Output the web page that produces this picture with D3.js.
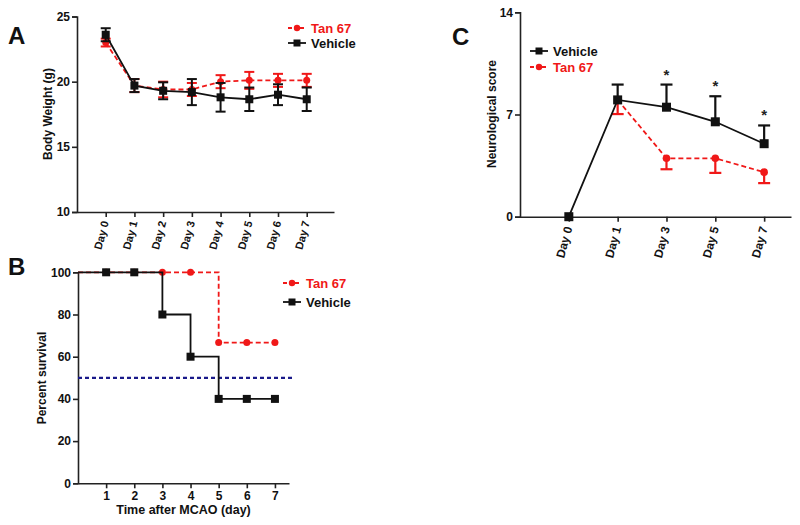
<!DOCTYPE html>
<html><head><meta charset="utf-8">
<script src="https://cdn.jsdelivr.net/npm/d3@7"></script>
<style>
body{margin:0;background:#fff;}
svg{display:block;font-family:"Liberation Sans",Arial,sans-serif;}
</style></head>
<body><svg id="c" width="800" height="525"></svg>
<script>
// ---- Panel A data: body weight ----
const daysA = ["Day 0","Day 1","Day 2","Day 3","Day 4","Day 5","Day 6","Day 7"];
const tanWeight = [23.0,19.7,19.4,19.4,20.0,20.1,20.1,20.1];
const tanWeightErr = [0.3,0.5,0.6,0.5,0.5,0.65,0.5,0.5];
const vehWeight = [23.6,19.7,19.3,19.2,18.8,18.65,19.0,18.65];
const vehWeightErr = [0.5,0.5,0.65,1.0,1.1,0.9,0.8,0.9];
const weightTicks = [10,15,20,25];
// ---- Panel B data: survival ----
const survDays = [0,1,2,3,4,5,6,7];
const tanSurv = [100,100,100,100,100,66.7,66.7,66.7];
const vehSurv = [100,100,100,80,60,40,40,40];
const survTicks = [0,20,40,60,80,100];
const survDayTicks = [1,2,3,4,5,6,7];
const medianLine = 50;
// ---- Panel C data: neurological score ----
const daysC = ["Day 0","Day 1","Day 3","Day 5","Day 7"];
const vehNeuro = [0,8.0,7.5,6.5,5.0];
const vehNeuroErr = [0,1.05,1.55,1.75,1.25];
const tanNeuro = [null,8.0,4.0,4.0,3.05];
const tanNeuroErr = [null,0.97,0.75,1.0,0.75];
const neuroTicks = [0,7,14];
const signifDays = ["Day 3","Day 5","Day 7"];

const RED = "#f01818", BLACK = "#111", AXIS = "#222";
const svg = d3.select("#c");

function styleAxis(g, fs){
  g.select(".domain").attr("stroke",AXIS).attr("stroke-width",1.6);
  g.selectAll(".tick line").attr("stroke",AXIS).attr("stroke-width",1.6);
  g.selectAll(".tick text").attr("fill","#111").attr("font-weight","bold").attr("font-size",fs)
   .attr("font-family","'Liberation Sans',Arial,sans-serif");
}
function square(g, x, y, color, s){
  g.append("rect").attr("x",x-s/2).attr("y",y-s/2).attr("width",s).attr("height",s).attr("fill",color);
}
function circle(g, x, y, color, r){
  g.append("circle").attr("cx",x).attr("cy",y).attr("r",r).attr("fill",color);
}
function legendItem(g, x, y, label, color, dashed, shape){
  g.append("line").attr("x1",x).attr("x2",x+18).attr("y1",y).attr("y2",y)
    .attr("stroke",color).attr("stroke-width",1.8).attr("stroke-dasharray",dashed?"4,2":null);
  if(shape==="sq") square(g,x+9,y,color,7); else circle(g,x+9,y,color,3.2);
  g.append("text").attr("x",x+23).attr("y",y+4.5).text(label).attr("fill",color)
    .attr("font-weight","bold").attr("font-size",13);
}
function panelLetter(x,y,t){
  svg.append("text").attr("x",x).attr("y",y).text(t).attr("font-weight","bold").attr("font-size",24).attr("fill","#111");
}
function yTitle(x,y,t){
  svg.append("text").attr("transform",`translate(${x},${y}) rotate(-90)`).attr("text-anchor","middle")
    .text(t).attr("font-weight","bold").attr("font-size",12).attr("fill","#111");
}

// ================= Panel A =================
{
  const x = d3.scaleLinear().domain([-1,7.95]).range([77,334]);
  const y = d3.scaleLinear().domain([10,25]).range([212,16.5]);
  const g = svg.append("g");
  const ya = g.append("g").attr("transform","translate(77,0)")
    .call(d3.axisLeft(y).tickValues(weightTicks).tickSize(5).tickPadding(2));
  styleAxis(ya,12);
  const xa = g.append("g").attr("transform","translate(0,212)")
    .call(d3.axisBottom(x).tickValues(d3.range(daysA.length)).tickFormat(i=>daysA[i]).tickSize(5).tickSizeOuter(0));
  styleAxis(xa,11);
  xa.selectAll(".tick text").attr("text-anchor","end").attr("dy","0.35em")
    .attr("transform","translate(-1,9) rotate(-75)").attr("x",0).attr("y",0);

  const series = [
    {v:tanWeight,e:tanWeightErr,c:RED,dash:"5,3",shape:"ci"},
    {v:vehWeight,e:vehWeightErr,c:BLACK,dash:null,shape:"sq"}
  ];
  series.forEach(s=>{
    const line = d3.line().x((d,i)=>x(i)).y(d=>y(d));
    g.append("path").attr("d",line(s.v)).attr("fill","none").attr("stroke",s.c)
      .attr("stroke-width",1.8).attr("stroke-dasharray",s.dash);
    s.v.forEach((v,i)=>{
      const xi=x(i), y0=y(v-s.e[i]), y1=y(v+s.e[i]);
      g.append("line").attr("x1",xi).attr("x2",xi).attr("y1",y0).attr("y2",y1).attr("stroke",s.c).attr("stroke-width",2);
      [y0,y1].forEach(yy=>g.append("line").attr("x1",xi-5).attr("x2",xi+5).attr("y1",yy).attr("y2",yy).attr("stroke",s.c).attr("stroke-width",2));
      if(s.shape==="sq") square(g,xi,y(v),s.c,8); else circle(g,xi,y(v),s.c,3.5);
    });
  });
  legendItem(g,288,28,"Tan 67",RED,true,"ci");
  legendItem(g,288,43,"Vehicle",BLACK,false,"sq");
  panelLetter(8,44,"A");
  yTitle(52,114,"Body Weight (g)");
}

// ================= Panel B =================
{
  const x = d3.scaleLinear().domain([0,7.5]).range([78,289]);
  const y = d3.scaleLinear().domain([0,100]).range([483.3,272.3]);
  const g = svg.append("g");
  const ya = g.append("g").attr("transform","translate(78,0)")
    .call(d3.axisLeft(y).tickValues(survTicks).tickSize(5).tickPadding(2));
  styleAxis(ya,12);
  const xa = g.append("g").attr("transform","translate(0,483.3)")
    .call(d3.axisBottom(x).tickValues(survDayTicks).tickSize(5).tickSizeOuter(0).tickPadding(3));
  styleAxis(xa,12);
  g.append("line").attr("x1",78).attr("x2",292).attr("y1",y(medianLine)).attr("y2",y(medianLine))
    .attr("stroke","#1a1a8a").attr("stroke-width",2.2).attr("stroke-dasharray","4,3");
  const series = [
    {v:tanSurv,c:RED,dash:"5,3",shape:"ci"},
    {v:vehSurv,c:BLACK,dash:null,shape:"sq"}
  ];
  series.forEach(s=>{
    const line = d3.line().curve(d3.curveStepAfter).x((d,i)=>x(survDays[i])).y(d=>y(d));
    g.append("path").attr("d",line(s.v)).attr("fill","none").attr("stroke",s.c)
      .attr("stroke-width",1.8).attr("stroke-dasharray",s.dash);
    s.v.forEach((v,i)=>{
      if(survDays[i]===0) return;
      if(s.shape==="sq") square(g,x(survDays[i]),y(v),s.c,8); else circle(g,x(survDays[i]),y(v),s.c,3.5);
    });
  });
  legendItem(g,283,283,"Tan 67",RED,true,"ci");
  legendItem(g,283,302,"Vehicle",BLACK,false,"sq");
  g.append("text").attr("x",183.5).attr("y",514).attr("text-anchor","middle").text("Time after MCAO (day)")
    .attr("font-weight","bold").attr("font-size",12.5).attr("fill","#111");
  panelLetter(8,275,"B");
  yTitle(46,378,"Percent survival");
}

// ================= Panel C =================
{
  const x = d3.scaleLinear().domain([-1,4.55]).range([520,791]);
  const y = d3.scaleLinear().domain([0,14]).range([216.7,12.3]);
  const g = svg.append("g");
  const ya = g.append("g").attr("transform","translate(520,0)")
    .call(d3.axisLeft(y).tickValues(neuroTicks).tickSize(5).tickPadding(2));
  styleAxis(ya,12);
  const xa = g.append("g").attr("transform","translate(0,216.7)")
    .call(d3.axisBottom(x).tickValues(d3.range(daysC.length)).tickFormat(i=>daysC[i]).tickSize(5).tickSizeOuter(0));
  styleAxis(xa,12);
  xa.selectAll(".tick text").attr("text-anchor","end").attr("dy","0.35em")
    .attr("transform","translate(-1,10) rotate(-75)").attr("x",0).attr("y",0);

  // Tan 67 (lower error bars)
  const idxT = d3.range(daysC.length).filter(i=>tanNeuro[i]!==null);
  const lineT = d3.line().x(i=>x(i)).y(i=>y(tanNeuro[i]));
  g.append("path").attr("d",lineT(idxT)).attr("fill","none").attr("stroke",RED).attr("stroke-width",1.8).attr("stroke-dasharray","5,3");
  idxT.forEach(i=>{
    const xi=x(i), yb=y(tanNeuro[i]-tanNeuroErr[i]);
    g.append("line").attr("x1",xi).attr("x2",xi).attr("y1",y(tanNeuro[i])).attr("y2",yb).attr("stroke",RED).attr("stroke-width",2.2);
    g.append("line").attr("x1",xi-6).attr("x2",xi+6).attr("y1",yb).attr("y2",yb).attr("stroke",RED).attr("stroke-width",2.2);
    circle(g,xi,y(tanNeuro[i]),RED,3.8);
  });
  // Vehicle (upper error bars)
  const lineV = d3.line().x((d,i)=>x(i)).y(d=>y(d));
  g.append("path").attr("d",lineV(vehNeuro)).attr("fill","none").attr("stroke",BLACK).attr("stroke-width",1.8);
  vehNeuro.forEach((v,i)=>{
    const xi=x(i);
    if(vehNeuroErr[i]>0){
      const yt=y(v+vehNeuroErr[i]);
      g.append("line").attr("x1",xi).attr("x2",xi).attr("y1",y(v)).attr("y2",yt).attr("stroke",BLACK).attr("stroke-width",2.2);
      g.append("line").attr("x1",xi-6).attr("x2",xi+6).attr("y1",yt).attr("y2",yt).attr("stroke",BLACK).attr("stroke-width",2.2);
    }
    square(g,xi,y(v),BLACK,9);
  });
  signifDays.forEach(dname=>{
    const i = daysC.indexOf(dname);
    g.append("text").attr("x",x(i)).attr("y",y(vehNeuro[i]+vehNeuroErr[i])-5).attr("text-anchor","middle")
      .text("*").attr("font-weight","bold").attr("font-size",15).attr("fill","#222");
  });
  legendItem(g,530,51,"Vehicle",BLACK,false,"sq");
  legendItem(g,530,67,"Tan 67",RED,true,"ci");
  panelLetter(452,45,"C");
  yTitle(496,114,"Neurological score");
}
</script></body></html>
